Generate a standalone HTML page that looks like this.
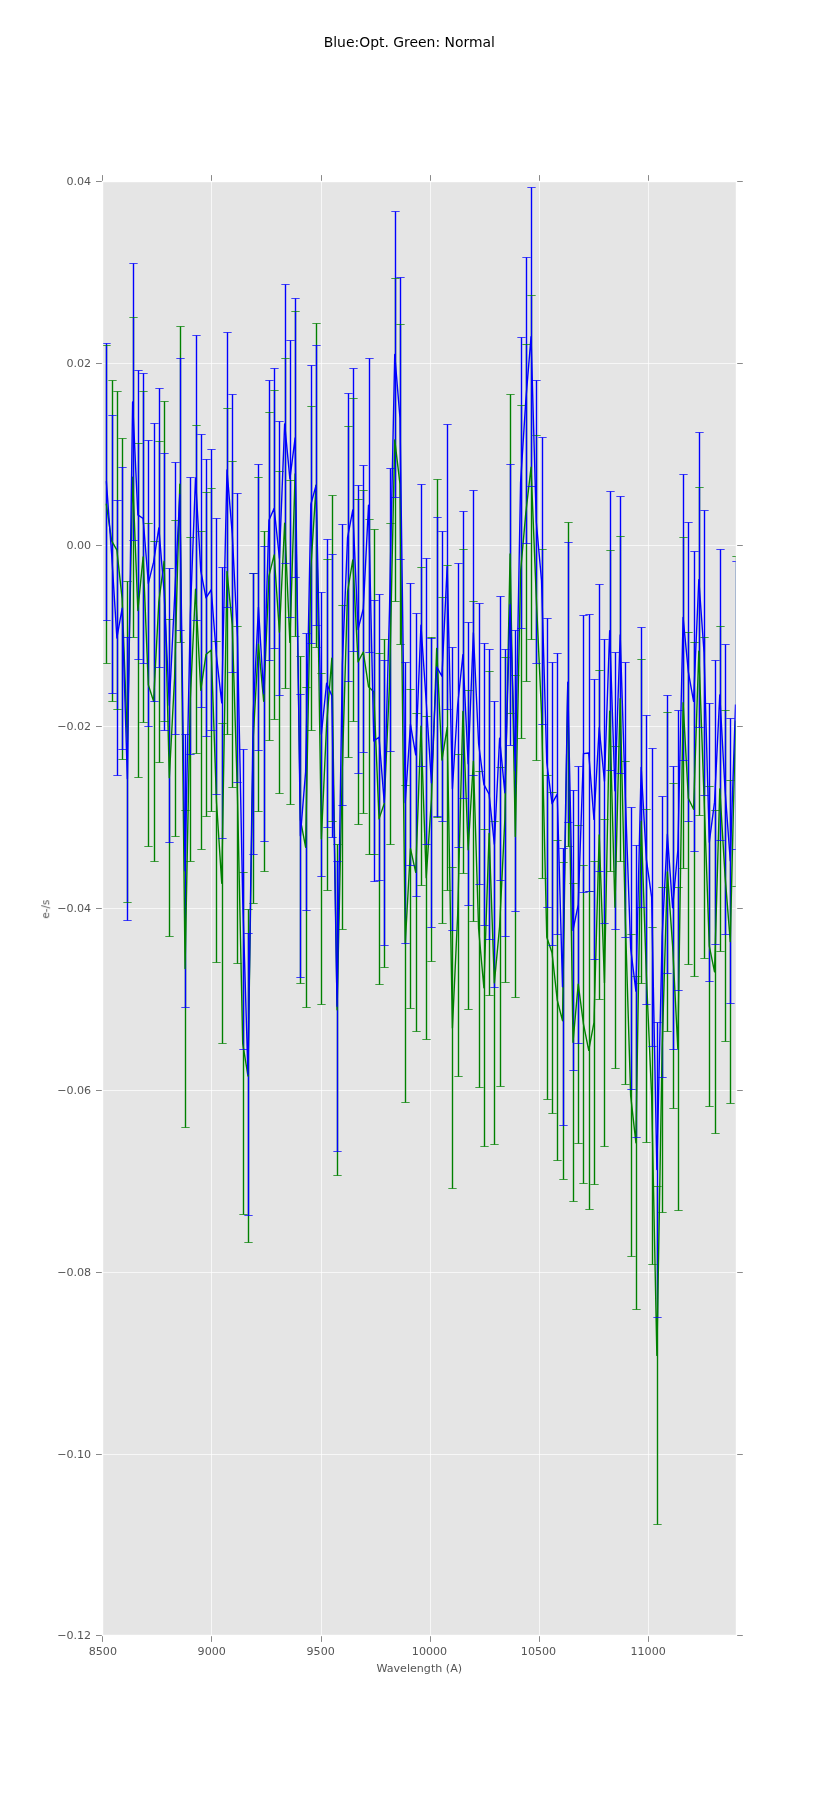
<!DOCTYPE html>
<html><head><meta charset="utf-8"><title>Blue:Opt. Green: Normal</title>
<style>html,body{margin:0;padding:0;background:#fff}svg{display:block}text{font-family:"DejaVu Sans","Liberation Sans",sans-serif}</style></head><body>
<svg width="817" height="1817" viewBox="0 0 817 1817">
<rect width="817" height="1817" fill="#fff"/>
<rect x="102" y="181" width="634" height="1454" fill="#e5e5e5"/>
<defs><clipPath id="c"><rect x="102" y="181" width="634" height="1454"/></clipPath></defs>
<path d="M102.5 181.25V1635.25M211.5 181.25V1635.25M321.5 181.25V1635.25M430.5 181.25V1635.25M539.5 181.25V1635.25M648.5 181.25V1635.25M102.19 181.5H735.75M102.19 363.5H735.75M102.19 545.5H735.75M102.19 726.5H735.75M102.19 908.5H735.75M102.19 1090.5H735.75M102.19 1272.5H735.75M102.19 1454.5H735.75M102.19 1635.5H735.75" stroke="#fff" stroke-width="0.69" fill="none"/>
<g clip-path="url(#c)" fill="none">
<path d="M106.5 345.5V663.5M112.5 380.5V701.5M117.5 391.5V709.5M122.5 438.5V759.5M127.5 581.5V902.5M133.5 317.5V637.5M138.5 443.5V777.5M143.5 391.5V722.5M148.5 523.5V846.5M154.5 541.5V861.5M159.5 441.5V762.5M164.5 401.5V721.5M169.5 619.5V936.5M175.5 520.5V836.5M180.5 326.5V642.5M185.5 810.5V1127.5M190.5 537.5V861.5M196.5 425.5V753.5M201.5 531.5V849.5M206.5 492.5V816.5M211.5 488.5V811.5M216.5 641.5V962.5M222.5 723.5V1043.5M227.5 408.5V734.5M232.5 461.5V787.5M237.5 626.5V963.5M243.5 872.5V1214.5M248.5 909.5V1242.5M253.5 573.5V903.5M258.5 477.5V811.5M264.5 531.5V871.5M269.5 412.5V740.5M274.5 390.5V719.5M279.5 471.5V793.5M285.5 358.5V688.5M290.5 480.5V804.5M295.5 311.5V636.5M300.5 656.5V983.5M306.5 687.5V1007.5M311.5 406.5V730.5M316.5 323.5V647.5M321.5 673.5V1004.5M327.5 559.5V890.5M332.5 495.5V821.5M337.5 844.5V1175.5M342.5 605.5V929.5M348.5 426.5V757.5M353.5 398.5V721.5M358.5 499.5V824.5M363.5 490.5V813.5M369.5 519.5V854.5M374.5 529.5V854.5M379.5 653.5V984.5M384.5 639.5V967.5M390.5 523.5V844.5M395.5 278.5V601.5M400.5 324.5V644.5M405.5 785.5V1102.5M410.5 689.5V1008.5M416.5 713.5V1031.5M421.5 567.5V885.5M426.5 716.5V1039.5M431.5 637.5V961.5M437.5 479.5V817.5M442.5 597.5V923.5M447.5 565.5V890.5M452.5 867.5V1188.5M458.5 754.5V1076.5M463.5 549.5V873.5M468.5 690.5V1009.5M473.5 601.5V921.5M479.5 771.5V1087.5M484.5 829.5V1146.5M489.5 671.5V995.5M494.5 821.5V1144.5M500.5 767.5V1086.5M505.5 657.5V982.5M510.5 394.5V713.5M515.5 675.5V997.5M521.5 405.5V738.5M526.5 344.5V681.5M531.5 295.5V639.5M536.5 435.5V760.5M542.5 549.5V878.5M547.5 775.5V1099.5M552.5 792.5V1113.5M557.5 840.5V1160.5M563.5 862.5V1179.5M568.5 522.5V846.5M573.5 883.5V1201.5M578.5 825.5V1143.5M583.5 865.5V1183.5M589.5 891.5V1209.5M594.5 861.5V1184.5M599.5 670.5V999.5M604.5 819.5V1146.5M610.5 550.5V871.5M615.5 746.5V1068.5M620.5 536.5V861.5M625.5 761.5V1084.5M631.5 934.5V1256.5M636.5 976.5V1309.5M641.5 659.5V983.5M646.5 809.5V1142.5M652.5 927.5V1264.5M657.5 1186.5V1524.5M662.5 887.5V1212.5M667.5 712.5V1031.5M673.5 783.5V1108.5M678.5 887.5V1210.5M683.5 537.5V868.5M688.5 632.5V964.5M694.5 642.5V976.5M699.5 487.5V815.5M704.5 637.5V958.5M709.5 786.5V1106.5M715.5 810.5V1133.5M720.5 626.5V951.5M725.5 710.5V1041.5M730.5 780.5V1103.5M736.5 556.5V886.5" stroke="#008000" stroke-width="1.39"/>
<path d="M106.5 343.5V620.5M112.5 415.5V693.5M117.5 500.5V775.5M122.5 467.5V749.5M127.5 637.5V920.5M133.5 263.5V540.5M138.5 370.5V659.5M143.5 373.5V663.5M148.5 440.5V726.5M154.5 423.5V701.5M159.5 388.5V667.5M164.5 453.5V730.5M169.5 568.5V842.5M175.5 462.5V734.5M180.5 358.5V630.5M185.5 734.5V1007.5M190.5 477.5V754.5M196.5 335.5V620.5M201.5 434.5V707.5M206.5 459.5V736.5M211.5 449.5V730.5M216.5 518.5V794.5M222.5 567.5V838.5M227.5 332.5V607.5M232.5 394.5V672.5M237.5 493.5V782.5M243.5 749.5V1049.5M248.5 933.5V1215.5M253.5 573.5V854.5M258.5 464.5V750.5M264.5 546.5V841.5M269.5 380.5V660.5M274.5 368.5V648.5M279.5 421.5V695.5M285.5 284.5V563.5M290.5 340.5V617.5M295.5 298.5V577.5M300.5 694.5V977.5M306.5 633.5V910.5M311.5 365.5V643.5M316.5 345.5V625.5M321.5 592.5V876.5M327.5 539.5V827.5M332.5 554.5V837.5M337.5 861.5V1151.5M342.5 524.5V805.5M348.5 393.5V681.5M353.5 368.5V651.5M358.5 485.5V773.5M363.5 465.5V752.5M369.5 358.5V652.5M374.5 600.5V881.5M379.5 594.5V880.5M384.5 660.5V945.5M390.5 468.5V751.5M395.5 211.5V497.5M400.5 277.5V559.5M405.5 662.5V943.5M410.5 583.5V865.5M416.5 613.5V896.5M421.5 484.5V766.5M426.5 558.5V844.5M431.5 638.5V927.5M437.5 517.5V816.5M442.5 531.5V821.5M447.5 424.5V709.5M452.5 647.5V930.5M458.5 563.5V847.5M463.5 511.5V798.5M468.5 622.5V905.5M473.5 490.5V775.5M479.5 603.5V884.5M484.5 643.5V925.5M489.5 649.5V939.5M494.5 701.5V987.5M500.5 596.5V880.5M505.5 649.5V936.5M510.5 464.5V745.5M515.5 630.5V911.5M521.5 337.5V628.5M526.5 257.5V543.5M531.5 187.5V486.5M536.5 380.5V663.5M542.5 437.5V724.5M547.5 618.5V907.5M552.5 662.5V945.5M557.5 653.5V934.5M563.5 848.5V1125.5M568.5 542.5V822.5M573.5 790.5V1070.5M578.5 766.5V1043.5M583.5 615.5V892.5M589.5 614.5V891.5M594.5 679.5V959.5M599.5 584.5V871.5M604.5 639.5V923.5M610.5 491.5V770.5M615.5 652.5V929.5M620.5 496.5V773.5M625.5 662.5V937.5M631.5 807.5V1089.5M636.5 845.5V1137.5M641.5 627.5V907.5M646.5 715.5V1004.5M652.5 748.5V1046.5M657.5 1022.5V1317.5M662.5 796.5V1077.5M667.5 695.5V973.5M673.5 766.5V1049.5M678.5 710.5V990.5M683.5 474.5V760.5M688.5 522.5V821.5M694.5 551.5V851.5M699.5 432.5V727.5M704.5 510.5V795.5M709.5 703.5V981.5M715.5 660.5V944.5M720.5 549.5V840.5M725.5 644.5V934.5M730.5 718.5V1003.5M736.5 561.5V849.5" stroke="#0000ff" stroke-width="1.39"/>
<polyline points="106.4,504.45 111.64,540.8 116.89,550.2 122.13,598.8 127.37,741.7 132.61,477.2 137.86,610.45 143.1,556.85 148.34,684.85 153.58,701.2 158.83,601.8 164.07,561.3 169.31,777.8 174.55,678.3 179.8,484.25 185.04,968.6 190.28,699.2 195.52,589.25 200.77,690.2 206.01,654.45 211.25,650 216.49,801.8 221.74,883.3 226.98,571.35 232.22,624.35 237.47,794.65 242.71,1043.45 247.95,1075.95 253.19,738.45 258.44,644.25 263.68,701.3 268.92,576.15 274.16,554.85 279.41,632.25 284.65,523.25 289.89,642.35 295.13,473.85 300.38,819.6 305.62,847.2 310.86,568.25 316.1,485.25 321.35,838.85 326.59,724.65 331.83,658.2 337.07,1009.75 342.32,767.4 347.56,591.75 352.8,559.85 358.04,661.9 363.29,652 368.53,686.7 373.77,691.7 379.02,818.85 384.26,803.45 389.5,683.9 394.74,439.95 399.99,484.2 405.23,943.8 410.47,848.7 415.71,872.4 420.96,726.2 426.2,877.85 431.44,799.2 436.68,648.35 441.93,760.05 447.17,727.5 452.41,1028 457.65,915.2 462.9,711.5 468.14,849.7 473.38,761.2 478.62,929.05 483.87,987.8 489.11,833.4 494.35,982.9 499.6,926.6 504.84,819.8 510.08,553.9 515.32,836.6 520.57,571.75 525.81,512.9 531.05,467.3 536.29,597.9 541.54,713.6 546.78,937.2 552.02,952.75 557.26,1000.1 562.51,1020.7 567.75,684.25 572.99,1042.2 578.23,984.1 583.48,1024.1 588.72,1050.4 593.96,1022.65 599.2,834.85 604.45,982.65 609.69,711.2 614.93,907.3 620.17,698.8 625.42,922.7 630.66,1095.55 635.9,1142.7 641.15,821.25 646.39,975.65 651.63,1095.75 656.87,1355.4 662.12,1049.7 667.36,871.9 672.6,945.65 677.84,1048.7 683.09,702.65 688.33,798.25 693.57,809.25 698.81,651.25 704.06,797.75 709.3,946.2 714.54,971.8 719.78,788.85 725.03,875.65 730.27,941.6 735.51,721.3" stroke="#008000" stroke-width="1.39" stroke-linejoin="round" stroke-linecap="square"/>
<path d="M102.33 345.5h8.34M102.33 663.5h8.34M108.33 380.5h8.34M108.33 701.5h8.34M113.33 391.5h8.34M113.33 709.5h8.34M118.33 438.5h8.34M118.33 759.5h8.34M123.33 581.5h8.34M123.33 902.5h8.34M129.33 317.5h8.34M129.33 637.5h8.34M134.33 443.5h8.34M134.33 777.5h8.34M139.33 391.5h8.34M139.33 722.5h8.34M144.33 523.5h8.34M144.33 846.5h8.34M150.33 541.5h8.34M150.33 861.5h8.34M155.33 441.5h8.34M155.33 762.5h8.34M160.33 401.5h8.34M160.33 721.5h8.34M165.33 619.5h8.34M165.33 936.5h8.34M171.33 520.5h8.34M171.33 836.5h8.34M176.33 326.5h8.34M176.33 642.5h8.34M181.33 810.5h8.34M181.33 1127.5h8.34M186.33 537.5h8.34M186.33 861.5h8.34M192.33 425.5h8.34M192.33 753.5h8.34M197.33 531.5h8.34M197.33 849.5h8.34M202.33 492.5h8.34M202.33 816.5h8.34M207.33 488.5h8.34M207.33 811.5h8.34M212.33 641.5h8.34M212.33 962.5h8.34M218.33 723.5h8.34M218.33 1043.5h8.34M223.33 408.5h8.34M223.33 734.5h8.34M228.33 461.5h8.34M228.33 787.5h8.34M233.33 626.5h8.34M233.33 963.5h8.34M239.33 872.5h8.34M239.33 1214.5h8.34M244.33 909.5h8.34M244.33 1242.5h8.34M249.33 573.5h8.34M249.33 903.5h8.34M254.33 477.5h8.34M254.33 811.5h8.34M260.33 531.5h8.34M260.33 871.5h8.34M265.33 412.5h8.34M265.33 740.5h8.34M270.33 390.5h8.34M270.33 719.5h8.34M275.33 471.5h8.34M275.33 793.5h8.34M281.33 358.5h8.34M281.33 688.5h8.34M286.33 480.5h8.34M286.33 804.5h8.34M291.33 311.5h8.34M291.33 636.5h8.34M296.33 656.5h8.34M296.33 983.5h8.34M302.33 687.5h8.34M302.33 1007.5h8.34M307.33 406.5h8.34M307.33 730.5h8.34M312.33 323.5h8.34M312.33 647.5h8.34M317.33 673.5h8.34M317.33 1004.5h8.34M323.33 559.5h8.34M323.33 890.5h8.34M328.33 495.5h8.34M328.33 821.5h8.34M333.33 844.5h8.34M333.33 1175.5h8.34M338.33 605.5h8.34M338.33 929.5h8.34M344.33 426.5h8.34M344.33 757.5h8.34M349.33 398.5h8.34M349.33 721.5h8.34M354.33 499.5h8.34M354.33 824.5h8.34M359.33 490.5h8.34M359.33 813.5h8.34M365.33 519.5h8.34M365.33 854.5h8.34M370.33 529.5h8.34M370.33 854.5h8.34M375.33 653.5h8.34M375.33 984.5h8.34M380.33 639.5h8.34M380.33 967.5h8.34M386.33 523.5h8.34M386.33 844.5h8.34M391.33 278.5h8.34M391.33 601.5h8.34M396.33 324.5h8.34M396.33 644.5h8.34M401.33 785.5h8.34M401.33 1102.5h8.34M406.33 689.5h8.34M406.33 1008.5h8.34M412.33 713.5h8.34M412.33 1031.5h8.34M417.33 567.5h8.34M417.33 885.5h8.34M422.33 716.5h8.34M422.33 1039.5h8.34M427.33 637.5h8.34M427.33 961.5h8.34M433.33 479.5h8.34M433.33 817.5h8.34M438.33 597.5h8.34M438.33 923.5h8.34M443.33 565.5h8.34M443.33 890.5h8.34M448.33 867.5h8.34M448.33 1188.5h8.34M454.33 754.5h8.34M454.33 1076.5h8.34M459.33 549.5h8.34M459.33 873.5h8.34M464.33 690.5h8.34M464.33 1009.5h8.34M469.33 601.5h8.34M469.33 921.5h8.34M475.33 771.5h8.34M475.33 1087.5h8.34M480.33 829.5h8.34M480.33 1146.5h8.34M485.33 671.5h8.34M485.33 995.5h8.34M490.33 821.5h8.34M490.33 1144.5h8.34M496.33 767.5h8.34M496.33 1086.5h8.34M501.33 657.5h8.34M501.33 982.5h8.34M506.33 394.5h8.34M506.33 713.5h8.34M511.33 675.5h8.34M511.33 997.5h8.34M517.33 405.5h8.34M517.33 738.5h8.34M522.33 344.5h8.34M522.33 681.5h8.34M527.33 295.5h8.34M527.33 639.5h8.34M532.33 435.5h8.34M532.33 760.5h8.34M538.33 549.5h8.34M538.33 878.5h8.34M543.33 775.5h8.34M543.33 1099.5h8.34M548.33 792.5h8.34M548.33 1113.5h8.34M553.33 840.5h8.34M553.33 1160.5h8.34M559.33 862.5h8.34M559.33 1179.5h8.34M564.33 522.5h8.34M564.33 846.5h8.34M569.33 883.5h8.34M569.33 1201.5h8.34M574.33 825.5h8.34M574.33 1143.5h8.34M579.33 865.5h8.34M579.33 1183.5h8.34M585.33 891.5h8.34M585.33 1209.5h8.34M590.33 861.5h8.34M590.33 1184.5h8.34M595.33 670.5h8.34M595.33 999.5h8.34M600.33 819.5h8.34M600.33 1146.5h8.34M606.33 550.5h8.34M606.33 871.5h8.34M611.33 746.5h8.34M611.33 1068.5h8.34M616.33 536.5h8.34M616.33 861.5h8.34M621.33 761.5h8.34M621.33 1084.5h8.34M627.33 934.5h8.34M627.33 1256.5h8.34M632.33 976.5h8.34M632.33 1309.5h8.34M637.33 659.5h8.34M637.33 983.5h8.34M642.33 809.5h8.34M642.33 1142.5h8.34M648.33 927.5h8.34M648.33 1264.5h8.34M653.33 1186.5h8.34M653.33 1524.5h8.34M658.33 887.5h8.34M658.33 1212.5h8.34M663.33 712.5h8.34M663.33 1031.5h8.34M669.33 783.5h8.34M669.33 1108.5h8.34M674.33 887.5h8.34M674.33 1210.5h8.34M679.33 537.5h8.34M679.33 868.5h8.34M684.33 632.5h8.34M684.33 964.5h8.34M690.33 642.5h8.34M690.33 976.5h8.34M695.33 487.5h8.34M695.33 815.5h8.34M700.33 637.5h8.34M700.33 958.5h8.34M705.33 786.5h8.34M705.33 1106.5h8.34M711.33 810.5h8.34M711.33 1133.5h8.34M716.33 626.5h8.34M716.33 951.5h8.34M721.33 710.5h8.34M721.33 1041.5h8.34M726.33 780.5h8.34M726.33 1103.5h8.34M732.33 556.5h8.34M732.33 886.5h8.34" stroke="#008000" stroke-width="0.72"/>
<polyline points="106.4,481.9 111.64,554.3 116.89,638 122.13,608.3 127.37,778.8 132.61,401.9 137.86,514.85 143.1,518.55 148.34,583.35 153.58,562.2 158.83,527.9 164.07,591.8 169.31,705.3 174.55,598.25 179.8,494.35 185.04,870.7 190.28,615.7 195.52,477.9 200.77,570.85 206.01,597.8 211.25,589.75 216.49,656.3 221.74,702.9 226.98,470 232.22,533.4 237.47,637.9 242.71,899.25 247.95,1074.35 253.19,714 258.44,607.3 263.68,693.7 268.92,520.3 274.16,508.4 279.41,558.25 284.65,423.9 289.89,478.9 295.13,437.9 300.38,835.85 305.62,771.75 310.86,504.3 316.1,485.3 321.35,734.3 326.59,683.25 331.83,695.65 337.07,1006.25 342.32,664.75 347.56,537.65 352.8,509.9 358.04,629.45 363.29,608.75 368.53,505.25 373.77,740.95 379.02,737.25 384.26,802.65 389.5,609.75 394.74,354.45 399.99,418.25 405.23,802.65 410.47,724.4 415.71,754.8 420.96,625.3 426.2,701.45 431.44,782.75 436.68,666.85 441.93,676.25 447.17,566.65 452.41,788.8 457.65,705.25 462.9,654.8 468.14,763.8 473.38,632.75 478.62,743.7 483.87,784.35 489.11,794.25 494.35,844.25 499.6,738.25 504.84,792.75 510.08,604.7 515.32,770.65 520.57,482.85 525.81,400.25 531.05,336.7 536.29,522 541.54,580.75 546.78,762.75 552.02,803.65 557.26,794.05 562.51,986.8 567.75,682.3 572.99,930.4 578.23,904.7 583.48,753.6 588.72,753 593.96,819.35 599.2,727.75 604.45,781.3 609.69,630.7 614.93,790.7 620.17,634.9 625.42,799.8 630.66,948.25 635.9,991.05 641.15,767.35 646.39,859.55 651.63,897.2 656.87,1169.6 662.12,936.85 667.36,834.2 672.6,907.65 677.84,850.4 683.09,617.55 688.33,671.8 693.57,701.3 698.81,579.7 704.06,652.75 709.3,842.2 714.54,802.15 719.78,694.85 725.03,789.45 730.27,860.8 735.51,705.2" stroke="#0000ff" stroke-width="1.39" stroke-linejoin="round" stroke-linecap="square"/>
<path d="M102.33 343.5h8.34M102.33 620.5h8.34M108.33 415.5h8.34M108.33 693.5h8.34M113.33 500.5h8.34M113.33 775.5h8.34M118.33 467.5h8.34M118.33 749.5h8.34M123.33 637.5h8.34M123.33 920.5h8.34M129.33 263.5h8.34M129.33 540.5h8.34M134.33 370.5h8.34M134.33 659.5h8.34M139.33 373.5h8.34M139.33 663.5h8.34M144.33 440.5h8.34M144.33 726.5h8.34M150.33 423.5h8.34M150.33 701.5h8.34M155.33 388.5h8.34M155.33 667.5h8.34M160.33 453.5h8.34M160.33 730.5h8.34M165.33 568.5h8.34M165.33 842.5h8.34M171.33 462.5h8.34M171.33 734.5h8.34M176.33 358.5h8.34M176.33 630.5h8.34M181.33 734.5h8.34M181.33 1007.5h8.34M186.33 477.5h8.34M186.33 754.5h8.34M192.33 335.5h8.34M192.33 620.5h8.34M197.33 434.5h8.34M197.33 707.5h8.34M202.33 459.5h8.34M202.33 736.5h8.34M207.33 449.5h8.34M207.33 730.5h8.34M212.33 518.5h8.34M212.33 794.5h8.34M218.33 567.5h8.34M218.33 838.5h8.34M223.33 332.5h8.34M223.33 607.5h8.34M228.33 394.5h8.34M228.33 672.5h8.34M233.33 493.5h8.34M233.33 782.5h8.34M239.33 749.5h8.34M239.33 1049.5h8.34M244.33 933.5h8.34M244.33 1215.5h8.34M249.33 573.5h8.34M249.33 854.5h8.34M254.33 464.5h8.34M254.33 750.5h8.34M260.33 546.5h8.34M260.33 841.5h8.34M265.33 380.5h8.34M265.33 660.5h8.34M270.33 368.5h8.34M270.33 648.5h8.34M275.33 421.5h8.34M275.33 695.5h8.34M281.33 284.5h8.34M281.33 563.5h8.34M286.33 340.5h8.34M286.33 617.5h8.34M291.33 298.5h8.34M291.33 577.5h8.34M296.33 694.5h8.34M296.33 977.5h8.34M302.33 633.5h8.34M302.33 910.5h8.34M307.33 365.5h8.34M307.33 643.5h8.34M312.33 345.5h8.34M312.33 625.5h8.34M317.33 592.5h8.34M317.33 876.5h8.34M323.33 539.5h8.34M323.33 827.5h8.34M328.33 554.5h8.34M328.33 837.5h8.34M333.33 861.5h8.34M333.33 1151.5h8.34M338.33 524.5h8.34M338.33 805.5h8.34M344.33 393.5h8.34M344.33 681.5h8.34M349.33 368.5h8.34M349.33 651.5h8.34M354.33 485.5h8.34M354.33 773.5h8.34M359.33 465.5h8.34M359.33 752.5h8.34M365.33 358.5h8.34M365.33 652.5h8.34M370.33 600.5h8.34M370.33 881.5h8.34M375.33 594.5h8.34M375.33 880.5h8.34M380.33 660.5h8.34M380.33 945.5h8.34M386.33 468.5h8.34M386.33 751.5h8.34M391.33 211.5h8.34M391.33 497.5h8.34M396.33 277.5h8.34M396.33 559.5h8.34M401.33 662.5h8.34M401.33 943.5h8.34M406.33 583.5h8.34M406.33 865.5h8.34M412.33 613.5h8.34M412.33 896.5h8.34M417.33 484.5h8.34M417.33 766.5h8.34M422.33 558.5h8.34M422.33 844.5h8.34M427.33 638.5h8.34M427.33 927.5h8.34M433.33 517.5h8.34M433.33 816.5h8.34M438.33 531.5h8.34M438.33 821.5h8.34M443.33 424.5h8.34M443.33 709.5h8.34M448.33 647.5h8.34M448.33 930.5h8.34M454.33 563.5h8.34M454.33 847.5h8.34M459.33 511.5h8.34M459.33 798.5h8.34M464.33 622.5h8.34M464.33 905.5h8.34M469.33 490.5h8.34M469.33 775.5h8.34M475.33 603.5h8.34M475.33 884.5h8.34M480.33 643.5h8.34M480.33 925.5h8.34M485.33 649.5h8.34M485.33 939.5h8.34M490.33 701.5h8.34M490.33 987.5h8.34M496.33 596.5h8.34M496.33 880.5h8.34M501.33 649.5h8.34M501.33 936.5h8.34M506.33 464.5h8.34M506.33 745.5h8.34M511.33 630.5h8.34M511.33 911.5h8.34M517.33 337.5h8.34M517.33 628.5h8.34M522.33 257.5h8.34M522.33 543.5h8.34M527.33 187.5h8.34M527.33 486.5h8.34M532.33 380.5h8.34M532.33 663.5h8.34M538.33 437.5h8.34M538.33 724.5h8.34M543.33 618.5h8.34M543.33 907.5h8.34M548.33 662.5h8.34M548.33 945.5h8.34M553.33 653.5h8.34M553.33 934.5h8.34M559.33 848.5h8.34M559.33 1125.5h8.34M564.33 542.5h8.34M564.33 822.5h8.34M569.33 790.5h8.34M569.33 1070.5h8.34M574.33 766.5h8.34M574.33 1043.5h8.34M579.33 615.5h8.34M579.33 892.5h8.34M585.33 614.5h8.34M585.33 891.5h8.34M590.33 679.5h8.34M590.33 959.5h8.34M595.33 584.5h8.34M595.33 871.5h8.34M600.33 639.5h8.34M600.33 923.5h8.34M606.33 491.5h8.34M606.33 770.5h8.34M611.33 652.5h8.34M611.33 929.5h8.34M616.33 496.5h8.34M616.33 773.5h8.34M621.33 662.5h8.34M621.33 937.5h8.34M627.33 807.5h8.34M627.33 1089.5h8.34M632.33 845.5h8.34M632.33 1137.5h8.34M637.33 627.5h8.34M637.33 907.5h8.34M642.33 715.5h8.34M642.33 1004.5h8.34M648.33 748.5h8.34M648.33 1046.5h8.34M653.33 1022.5h8.34M653.33 1317.5h8.34M658.33 796.5h8.34M658.33 1077.5h8.34M663.33 695.5h8.34M663.33 973.5h8.34M669.33 766.5h8.34M669.33 1049.5h8.34M674.33 710.5h8.34M674.33 990.5h8.34M679.33 474.5h8.34M679.33 760.5h8.34M684.33 522.5h8.34M684.33 821.5h8.34M690.33 551.5h8.34M690.33 851.5h8.34M695.33 432.5h8.34M695.33 727.5h8.34M700.33 510.5h8.34M700.33 795.5h8.34M705.33 703.5h8.34M705.33 981.5h8.34M711.33 660.5h8.34M711.33 944.5h8.34M716.33 549.5h8.34M716.33 840.5h8.34M721.33 644.5h8.34M721.33 934.5h8.34M726.33 718.5h8.34M726.33 1003.5h8.34M732.33 561.5h8.34M732.33 849.5h8.34" stroke="#0000ff" stroke-width="0.72"/>
</g>
<path d="M102.5 1635.5V1641.9M102.5 181.5V175.1M211.5 1635.5V1641.9M211.5 181.5V175.1M321.5 1635.5V1641.9M321.5 181.5V175.1M430.5 1635.5V1641.9M430.5 181.5V175.1M539.5 1635.5V1641.9M539.5 181.5V175.1M648.5 1635.5V1641.9M648.5 181.5V175.1M102.5 181.5H96M736.5 181.5H742.8M102.5 363.5H96M736.5 363.5H742.8M102.5 545.5H96M736.5 545.5H742.8M102.5 726.5H96M736.5 726.5H742.8M102.5 908.5H96M736.5 908.5H742.8M102.5 1090.5H96M736.5 1090.5H742.8M102.5 1272.5H96M736.5 1272.5H742.8M102.5 1454.5H96M736.5 1454.5H742.8M102.5 1635.5H96M736.5 1635.5H742.8" stroke="#555" stroke-width="0.69" fill="none"/>
<rect x="102.5" y="181.5" width="634" height="1454" fill="none" stroke="#fff" stroke-width="1.39"/>
<g fill="#555" font-size="11.11" opacity="0.999">
<text x="102.89" y="1655.2" text-anchor="middle">8500</text>
<text x="211.72" y="1655.2" text-anchor="middle">9000</text>
<text x="320.66" y="1655.2" text-anchor="middle">9500</text>
<text x="429.49" y="1655.2" text-anchor="middle">10000</text>
<text x="538.53" y="1655.2" text-anchor="middle">10500</text>
<text x="648.16" y="1655.2" text-anchor="middle">11000</text>
<text x="91.2" y="185.2" text-anchor="end">0.04</text>
<text x="91.2" y="367.2" text-anchor="end">0.02</text>
<text x="91.2" y="549.2" text-anchor="end">0.00</text>
<text x="91.2" y="730.2" text-anchor="end">−0.02</text>
<text x="91.2" y="912.2" text-anchor="end">−0.04</text>
<text x="91.2" y="1094.2" text-anchor="end">−0.06</text>
<text x="91.2" y="1276.2" text-anchor="end">−0.08</text>
<text x="91.2" y="1458.2" text-anchor="end">−0.10</text>
<text x="91.2" y="1639.2" text-anchor="end">−0.12</text>
<text x="419.27" y="1671.6" text-anchor="middle">Wavelength (A)</text>
<text transform="translate(49.2,909.15) rotate(-90)" text-anchor="middle" textLength="19" lengthAdjust="spacingAndGlyphs">e-/s</text>
<text x="409.3" y="46.6" text-anchor="middle" font-size="13.93" fill="#000">Blue:Opt. Green: Normal</text>
</g>
</svg></body></html>
